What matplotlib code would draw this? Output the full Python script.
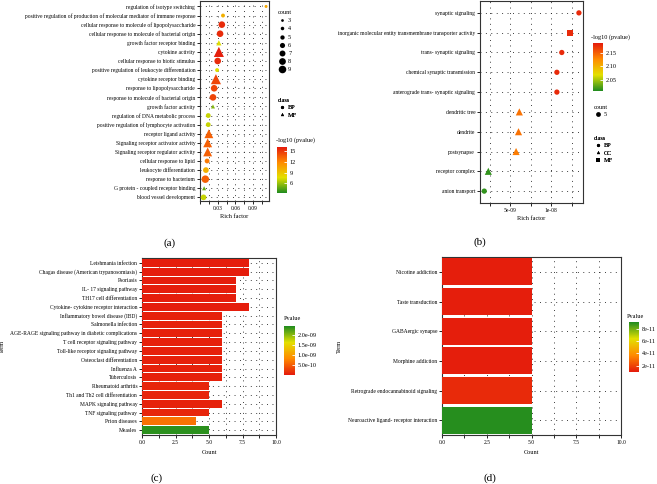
import matplotlib.pyplot as plt
from matplotlib.colors import LinearSegmentedColormap, Normalize
from matplotlib.cm import ScalarMappable
from matplotlib.lines import Line2D
from matplotlib.ticker import MultipleLocator, FixedLocator, FuncFormatter

plt.rcParams['font.family'] = ['Liberation Serif', 'DejaVu Serif']

# (a) GO enrichment, up-regulated
go_terms = [
    "regulation of isotype switching",
    "positive regulation of production of molecular mediator of immune response",
    "cellular response to molecule of lipopolysaccharide",
    "cellular response to molecule of bacterial origin",
    "growth factor receptor binding",
    "cytokine activity",
    "cellular response to biotic stimulus",
    "positive regulation of leukocyte differentiation",
    "cytokine receptor binding",
    "response to lipopolysaccharide",
    "response to molecule of bacterial origin",
    "growth factor activity",
    "regulation of DNA metabolic process",
    "positive regulation of lymphocyte activation",
    "receptor ligand activity",
    "Signaling receptor activator activity",
    "Signaling receptor regulator activity",
    "cellular response to lipid",
    "leukocyte differentiation",
    "response to bacterium",
    "G protein - coupled receptor binding",
    "blood vessel development",
]
go_rich = [0.112, 0.039, 0.037, 0.034, 0.032, 0.032, 0.030, 0.029, 0.027, 0.024, 0.022,
           0.022, 0.014, 0.014, 0.015, 0.013, 0.013, 0.012, 0.010, 0.009, 0.007, 0.006]
go_count = [3, 4, 7, 7, 4, 8, 7, 4, 8, 7, 7, 3, 5, 5, 7, 7, 7, 5, 6, 8, 3, 6]
go_logp = [10.5, 10, 15.5, 15.5, 7.5, 16, 15.5, 7.5, 14.5, 14.5, 14.5, 5.5, 7, 7,
           13.5, 13.5, 13.5, 12.5, 10, 13.5, 5, 7]
go_class = ["BP", "BP", "BP", "BP", "MF", "MF", "BP", "BP", "MF", "BP", "BP",
            "MF", "BP", "BP", "MF", "MF", "MF", "BP", "BP", "BP", "MF", "BP"]

# (b) GO enrichment, down-regulated
go2_terms = [
    "synaptic signaling",
    "inorganic molecular entity transmembrane transporter activity",
    "trans- synaptic signaling",
    "chemical synaptic transmission",
    "anterograde trans- synaptic signaling",
    "dendritic tree",
    "dendrite",
    "postsynapse",
    "receptor complex",
    "anion transport",
]
go2_rich = [1.34e-8, 1.23e-8, 1.13e-8, 1.07e-8, 1.07e-8, 6.1e-9, 6.0e-9, 5.7e-9, 2.3e-9, 1.8e-9]
go2_count = [5, 5, 5, 5, 5, 5, 5, 5, 5, 5]
go2_logp = [2.178, 2.178, 2.178, 2.178, 2.178, 2.14, 2.14, 2.135, 2.015, 2.015]
go2_class = ["BP", "MF", "BP", "BP", "BP", "CC", "CC", "CC", "CC", "BP"]

# (c) KEGG, up-regulated
kegg_terms = [
    "Leishmania infection",
    "Chagas disease (American trypanosomiasis)",
    "Psoriasis",
    "IL- 17 signaling pathway",
    "TH17 cell differentiation",
    "Cytokine- cytokine receptor interaction",
    "Inflammatory bowel disease (IBD)",
    "Salmonella infection",
    "AGE-RAGE signaling pathway in diabetic complications",
    "T cell receptor signaling pathway",
    "Toll-like receptor signaling pathway",
    "Osteoclast differentiation",
    "Influenza A",
    "Tuberculosis",
    "Rheumatoid arthritis",
    "Th1 and Th2 cell differentiation",
    "MAPK signaling pathway",
    "TNF signaling pathway",
    "Prion diseases",
    "Measles",
]
kegg_count = [8, 8, 7, 7, 7, 8, 6, 6, 6, 6, 6, 6, 6, 6, 5, 5, 6, 5, 4, 5]
kegg_p = [2e-11, 2e-11, 3e-11, 3e-11, 3e-11, 2e-11, 5e-11, 5e-11, 5e-11, 5e-11, 5e-11,
          5e-11, 5e-11, 5e-11, 8e-11, 8e-11, 6e-11, 8e-11, 6.5e-10, 2.4e-9]

# (d) KEGG, down-regulated
kegg2_terms = [
    "Nicotine addiction",
    "Taste transduction",
    "GABAergic synapse",
    "Morphine addiction",
    "Retrograde endocannabinoid signaling",
    "Neuroactive ligand- receptor interaction",
]
kegg2_count = [5, 5, 5, 5, 5, 5]
kegg2_p = [1.1e-11, 1.1e-11, 1.1e-11, 1.1e-11, 1.4e-11, 9e-11]

gyr = LinearSegmentedColormap.from_list('gyr', ['#1f8b1f', '#e3e000', '#ff8a00', '#e41a0c'])
ryg = gyr.reversed()
markers = {"BP": "o", "CC": "^", "MF": "s"}
markers_a = {"BP": "o", "MF": "^"}
mk_scale = {"o": 1.0, "^": 1.35, "s": 0.95}

W, H = 657, 484
fig = plt.figure(figsize=(6.57, 4.84), dpi=100)
GRID = dict(ls=(0, (1, 5)), lw=0.65, color='#222222')


def box(x0, y0, x1, y1):
    return [x0 / W, 1 - y1 / H, (x1 - x0) / W, (y1 - y0) / H]


def dot_ms(c):
    return (0.9 * c + 0.3) * 0.72


def style(ax):
    ax.grid(True, which='both', axis='x', **GRID)
    ax.grid(True, which='major', axis='y', **GRID)
    ax.set_axisbelow(True)
    ax.tick_params(which='both', length=2, width=0.6, direction='out', labelsize=4, pad=1.5)
    for s in ax.spines.values():
        s.set_linewidth(0.8)
        s.set_color('#333333')


def cbar(rect, norm, cmap, ticks, fmt):
    cax = fig.add_axes(rect)
    cb = fig.colorbar(ScalarMappable(norm=norm, cmap=cmap), cax=cax)
    cb.outline.set_visible(False)
    cb.set_ticks(ticks)
    cb.set_ticklabels([fmt(t) for t in ticks])
    cax.tick_params(length=2, width=0.6, color='white', direction='in', labelsize=4.5, pad=2)
    return cax


def legend(ax, handles, labels, title, x, y, spacing):
    lg = ax.legend(handles, labels, title=title, loc='upper left',
                   bbox_to_anchor=(x / W, 1 - y / H), bbox_transform=fig.transFigure,
                   frameon=False, fontsize=4.5, title_fontsize=4.5, borderpad=0,
                   labelspacing=spacing, handletextpad=0.4, handlelength=1.2)
    lg._legend_box.align = 'left'
    ax.add_artist(lg)


# ---------- (a) ----------
ax = fig.add_axes(box(200, 1, 269, 201))
norm_a = Normalize(3.3, 16.2)
ya = list(range(len(go_terms)))
for cls, mk in markers_a.items():
    idx = [i for i in ya if go_class[i] == cls]
    ax.scatter([go_rich[i] for i in idx], idx,
               s=[(dot_ms(go_count[i]) * mk_scale[mk]) ** 2 for i in idx],
               c=[go_logp[i] for i in idx], cmap=gyr, norm=norm_a, marker=mk, linewidths=0, zorder=3)
ax.set_yticks(ya)
ax.set_yticklabels(go_terms, fontsize=3.7)
ax.set_ylim(len(go_terms) - 0.6, -0.6)
ax.set_xlim(0, 0.117)
ax.xaxis.set_major_locator(FixedLocator([0.03, 0.06, 0.09]))
ax.xaxis.set_minor_locator(MultipleLocator(0.015))
ax.xaxis.set_major_formatter(FuncFormatter(lambda v, p: f"{v:.2f}"))
style(ax)
ax.set_xlabel("Rich factor", fontsize=4.5, labelpad=2)

cnt = [3, 4, 5, 6, 7, 8, 9]
h = [Line2D([], [], marker='o', ls='', color='black', markersize=dot_ms(c) * 0.9, markeredgewidth=0) for c in cnt]
legend(ax, h, [str(c) for c in cnt], 'count', 275, 7, 0.45)
h = [Line2D([], [], marker=markers_a[c], ls='', color='black', markersize=2.3, markeredgewidth=0) for c in markers_a]
legend(ax, h, list(markers_a), 'class', 275, 95, 0.3)
fig.text(276 / W, 1 - 140 / H, "-log10 (pvalue)", fontsize=4.5, va='center')
cbar(box(277, 147, 287, 193), norm_a, gyr, [6, 9, 12, 15], lambda v: f"{v:g}")
fig.text(170 / W, 1 - 243 / H, "(a)", fontsize=8, ha='center', va='center')

# ---------- (b) ----------
ax = fig.add_axes(box(480, 1, 583, 203))
norm_b = Normalize(2.009, 2.187)
yb = list(range(len(go2_terms)))
for cls, mk in markers.items():
    idx = [i for i in yb if go2_class[i] == cls]
    ax.scatter([go2_rich[i] for i in idx], idx,
               s=[(dot_ms(go2_count[i]) * 1.1 * mk_scale[mk]) ** 2 for i in idx],
               c=[go2_logp[i] for i in idx], cmap=gyr, norm=norm_b, marker=mk, linewidths=0, zorder=3)
ax.set_yticks(yb)
ax.set_yticklabels(go2_terms, fontsize=3.7)
ax.set_ylim(len(go2_terms) - 0.4, -0.6)
ax.set_xlim(1.28e-9, 1.39e-8)
ax.xaxis.set_major_locator(FixedLocator([5e-9, 1e-8]))
ax.xaxis.set_minor_locator(MultipleLocator(2.5e-9))
ax.xaxis.set_major_formatter(FuncFormatter(lambda v, p: f"{v:.0e}"))
style(ax)
ax.set_xlabel("Rich factor", fontsize=4.5, labelpad=2)

fig.text(591 / W, 1 - 37 / H, "-log10 (pvalue)", fontsize=4.5, va='center')
cbar(box(593, 43, 603, 91), norm_b, gyr, [2.05, 2.10, 2.15], lambda v: f"{v:.2f}")
h = [Line2D([], [], marker='o', ls='', color='black', markersize=dot_ms(5), markeredgewidth=0)]
legend(ax, h, ["5"], 'count', 591, 102, 0.3)
h = [Line2D([], [], marker=markers[c], ls='', color='black', markersize=2.3, markeredgewidth=0) for c in markers]
legend(ax, h, list(markers), 'class', 591, 133, 0.3)
fig.text(480 / W, 1 - 242 / H, "(b)", fontsize=8, ha='center', va='center')

# ---------- (c) ----------
ax = fig.add_axes(box(142, 258, 276, 435))
norm_c = Normalize(0, 2.45e-9)
yc = list(range(len(kegg_terms)))
ax.barh(yc, kegg_count, height=0.88, color=ryg(norm_c(kegg_p)), zorder=3)
ax.set_yticks(yc)
ax.set_yticklabels(kegg_terms, fontsize=3.8)
ax.set_ylim(len(kegg_terms) - 0.45, -0.55)
ax.set_xlim(0, 10)
ax.xaxis.set_major_locator(MultipleLocator(2.5))
ax.xaxis.set_minor_locator(MultipleLocator(1.25))
ax.xaxis.set_major_formatter(FuncFormatter(lambda v, p: f"{v:.1f}"))
style(ax)
ax.set_xlabel("Count", fontsize=4.5, labelpad=4)
ax.set_ylabel("Term", fontsize=4.5, labelpad=4)
fig.text(284 / W, 1 - 319 / H, "Pvalue", fontsize=4.5, va='center')
cbar(box(284, 326, 295, 375), norm_c, ryg, [5e-10, 1e-9, 1.5e-9, 2e-9], lambda v: f"{v:.1e}")
fig.text(157 / W, 1 - 478 / H, "(c)", fontsize=8, ha='center', va='center')

# ---------- (d) ----------
ax = fig.add_axes(box(442, 257, 621, 435))
norm_d = Normalize(1e-11, 9.1e-11)
yd = list(range(len(kegg2_terms)))
ax.barh(yd, kegg2_count, height=0.92, color=ryg(norm_d(kegg2_p)), zorder=3)
ax.set_yticks(yd)
ax.set_yticklabels(kegg2_terms, fontsize=3.7)
ax.set_ylim(len(kegg2_terms) - 0.5, -0.5)
ax.set_xlim(0, 10)
ax.xaxis.set_major_locator(MultipleLocator(2.5))
ax.xaxis.set_minor_locator(MultipleLocator(1.25))
ax.xaxis.set_major_formatter(FuncFormatter(lambda v, p: f"{v:.1f}"))
style(ax)
ax.set_xlabel("Count", fontsize=4.5, labelpad=4)
ax.set_ylabel("Term", fontsize=4.5, labelpad=4)
fig.text(627 / W, 1 - 317 / H, "Pvalue", fontsize=4.5, va='center')
cbar(box(629, 322, 639, 372), norm_d, ryg, [2e-11, 4e-11, 6e-11, 8e-11], lambda v: f"{v:.0e}")
fig.text(490 / W, 1 - 478 / H, "(d)", fontsize=8, ha='center', va='center')

fig.savefig("out.png", dpi=100)
